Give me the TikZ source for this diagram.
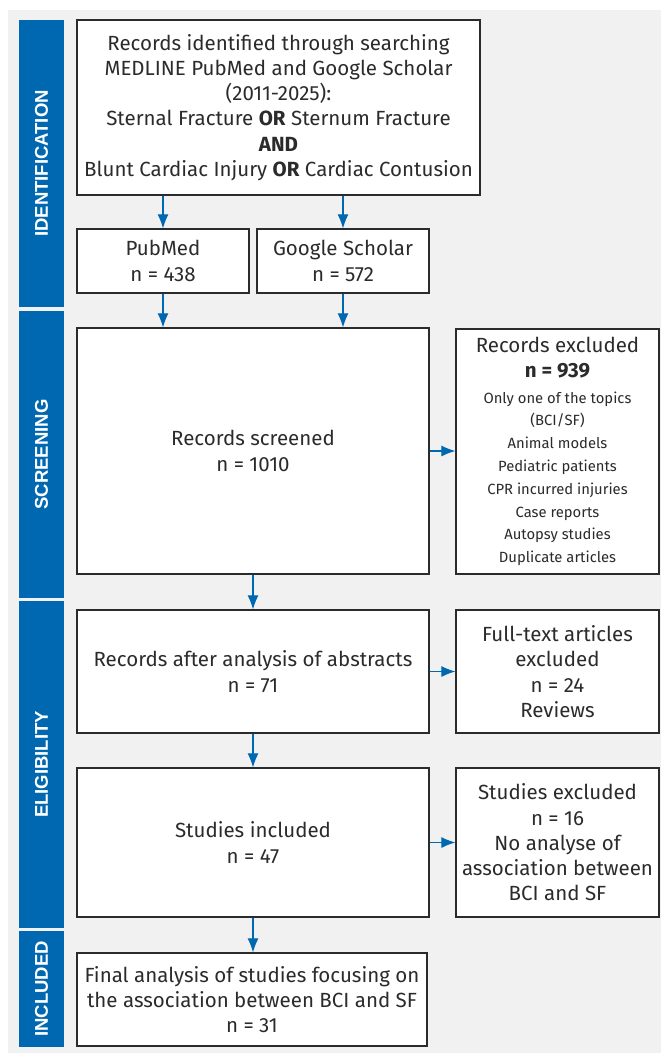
\documentclass[tikz,border=0pt]{standalone}
\usepackage{fontspec}
\setmainfont{Fira Sans}
\newfontfamily\stagefont{Liberation Sans}
\usetikzlibrary{arrows.meta}
\definecolor{prismablue}{HTML}{0067B1}
\definecolor{panelgrey}{HTML}{F1F1F1}
\definecolor{inkgrey}{HTML}{2B2B2B}
\newcommand\bigtext{\fontsize{20.5}{25.3}\selectfont}
\newcommand\smalltext{\fontsize{14.8}{22.8}\selectfont}
\begin{document}
\begin{tikzpicture}[x=1pt, y=-1pt,
  box/.style = {shape=rectangle, draw=inkgrey, line width=1.2pt, fill=white,
    text=inkgrey, align=center, inner sep=0pt, font=\bigtext},
  stage/.style = {shape=rectangle, fill=prismablue, text=white, rotate=90,
    minimum height=45pt, inner sep=0pt,
    font=\stagefont\bfseries\fontsize{18.5}{20}\selectfont},
  flow/.style = {-{Latex[length=14pt,width=11pt]}, draw=prismablue,
    line width=1.1pt}]
  \useasboundingbox (0,0) rectangle (661,1053);
  \fill[panelgrey] (8,10) rectangle (661,1053);

  \node[stage, minimum width=287pt] (idbar)   at (41.5,163.5) {IDENTIFICATION};
  \node[stage, minimum width=287pt] (scrbar)  at (41.5,454.5) {SCREENING};
  \node[stage, minimum width=327pt] (eligbar) at (41.5,764.5) {ELIGIBILITY};
  \node[stage, minimum width=116pt] (inclbar) at (41.5,989)   {INCLUDED};

  \node[box, minimum width=403pt, minimum height=175pt] (search) at (278.5,107.5)
    {Records identified through searching\\
     MEDLINE PubMed and Google Scholar\\
     (2011-2025):\\
     Sternal Fracture \textbf{OR} Sternum Fracture\\
     \textbf{AND}\\
     Blunt Cardiac Injury \textbf{OR} Cardiac Contusion};
  \node[box, minimum width=172pt, minimum height=64pt] (pubmed) at (163,261)
    {PubMed\\ n = 438};
  \node[box, minimum width=172pt, minimum height=64pt] (scholar) at (343,261)
    {Google Scholar\\ n = 572};

  \node[box, minimum width=352pt, minimum height=246pt] (screened) at (253,451)
    {Records screened\\ n = 1010};
  \node[box, font=\smalltext, minimum width=203pt, minimum height=245pt] (excl)
    at (557.5,451.5)
    {\bigtext Records excluded\\[2.5pt] \bigtext\bfseries n = 939\\[2.5pt]
     Only one of the topics\\ (BCI/SF)\\ Animal models\\ Pediatric patients\\
     CPR incurred injuries\\ Case reports\\ Autopsy studies\\ Duplicate articles};

  \node[box, minimum width=352pt, minimum height=123pt] (abstracts) at (253,671.5)
    {Records after analysis of abstracts\\ n = 71};
  \node[box, minimum width=203pt, minimum height=123pt] (fulltext) at (557.5,671.5)
    {Full-text articles\\ excluded\\ n = 24\\ Reviews};

  \node[box, minimum width=352pt, minimum height=149pt] (included) at (253,842.5)
    {Studies included\\ n = 47};
  \node[box, minimum width=203pt, minimum height=149pt] (studexcl) at (557.5,842.5)
    {Studies excluded\\ n = 16\\ No analyse of\\ association between\\ BCI and SF};

  \node[box, minimum width=350pt, minimum height=93pt] (final) at (252,999.5)
    {Final analysis of studies focusing on\\
     the association between BCI and SF\\ n = 31};

  \draw[flow] (pubmed.north |- search.south) -- (pubmed.north);
  \draw[flow] (scholar.north |- search.south) -- (scholar.north);
  \draw[flow] (pubmed.south) -- (pubmed.south |- screened.north);
  \draw[flow] (scholar.south) -- (scholar.south |- screened.north);
  \draw[flow] (screened.east) -- (excl.west |- screened.east);
  \draw[flow] (screened.south) -- (abstracts.north);
  \draw[flow] (abstracts.east) -- (fulltext.west);
  \draw[flow] (abstracts.south) -- (included.north);
  \draw[flow] (included.east) -- (studexcl.west);
  \draw[flow] (included.south) -- (included.south |- final.north);
\end{tikzpicture}
\end{document}
